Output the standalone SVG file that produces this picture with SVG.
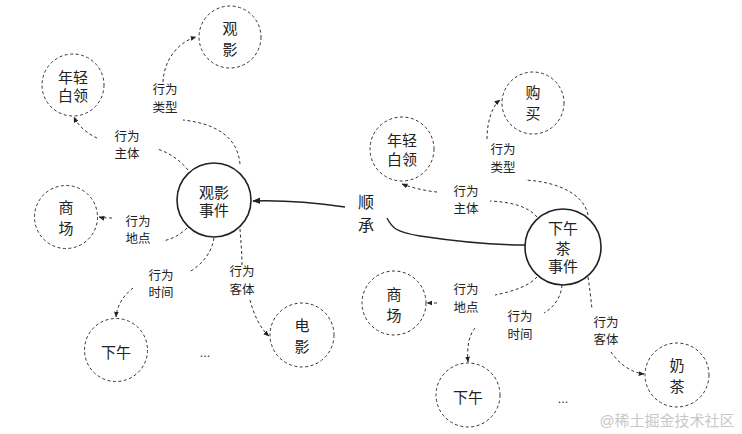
<svg xmlns="http://www.w3.org/2000/svg" width="742" height="434" viewBox="0 0 742 434">
<defs>
<marker id="ah" viewBox="0 0 10 10" refX="9" refY="5" markerWidth="6" markerHeight="6" orient="auto-start-reverse" markerUnits="userSpaceOnUse">
<path d="M0,1 L10,5 L0,9 z" fill="#222"/>
</marker>
<marker id="ahs" viewBox="0 0 10 10" refX="9" refY="5" markerWidth="8" markerHeight="8" orient="auto" markerUnits="userSpaceOnUse">
<path d="M0,1 L10,5 L0,9 z" fill="#222"/>
</marker>
<style>
text{font-family:"Liberation Sans","Noto Sans CJK SC",sans-serif;fill:#222;text-anchor:middle;dominant-baseline:central}
.n{font-size:15px}
.l{font-size:12.5px}
.dc{fill:#fff;stroke:#333;stroke-width:1;stroke-dasharray:3 2.5}
.sc{fill:#fff;stroke:#222;stroke-width:1.6}
.dl{fill:none;stroke:#333;stroke-width:1;stroke-dasharray:3 2.5}
.sl{fill:none;stroke:#222;stroke-width:1.4}
</style>
</defs>
<rect width="742" height="434" fill="#fff"/>
<g id="connectors">
<path class="dl" d="M240,164 C238,140 220,124 183,120"/>
<path class="dl" d="M163,82 C164,60 178,42 196,37" marker-end="url(#ah)"/>
<path class="dl" d="M188,170 C180,160 168,152 157,149"/>
<path class="dl" d="M97,138 C88,134 78,126 74,117" marker-end="url(#ah)"/>
<path class="dl" d="M187,228 C180,235 172,239 163,241"/>
<path class="dl" d="M112,218 C108,218 103,218 99,217" marker-end="url(#ah)"/>
<path class="dl" d="M214,238 C212,252 202,265 189,272"/>
<path class="dl" d="M133,288 C124,295 117,305 116,317" marker-end="url(#ah)"/>
<path class="dl" d="M240,229 C241,242 242,255 242,265"/>
<path class="dl" d="M250,300 C254,315 260,328 269,336" marker-end="url(#ah)"/>
<path class="sl" d="M345,207 C310,202 285,200 253,201" marker-end="url(#ahs)"/>
<path class="sl" d="M387,218 C392,228 396,232 420,236 C460,242 495,245 525,245"/>
<path class="dl" d="M588,215 C584,195 560,182 525,180"/>
<path class="dl" d="M487,139 C487,122 492,106 500,100" marker-end="url(#ah)"/>
<path class="dl" d="M537,217 C528,206 510,202 490,201"/>
<path class="dl" d="M437,192 C425,191 410,187 402,184" marker-end="url(#ah)"/>
<path class="dl" d="M537,277 C528,287 510,292 495,295"/>
<path class="dl" d="M437,303 C433,303 430,303 427,303" marker-end="url(#ah)"/>
<path class="dl" d="M562,285 C561,298 553,308 544,313"/>
<path class="dl" d="M475,328 C468,336 467,350 468,362" marker-end="url(#ah)"/>
<path class="dl" d="M588,277 C590,290 591,300 592,309"/>
<path class="dl" d="M611,352 C619,364 632,373 644,374" marker-end="url(#ah)"/>
</g>
<g id="guanying"><circle class="dc" cx="230" cy="37" r="31"/><text class="n" x="230" y="28">观<tspan x="230" dy="21">影</tspan></text></g>
<g id="bailing1"><circle class="dc" cx="73" cy="85" r="31"/><text class="n" x="73" y="77">年轻<tspan x="73" dy="18">白领</tspan></text></g>
<g id="event1"><circle class="sc" cx="214" cy="200" r="37"/><text class="n" x="214" y="192">观影<tspan x="214" dy="18">事件</tspan></text></g>
<g id="shangchang1"><circle class="dc" cx="66" cy="217" r="31.5"/><text class="n" x="66" y="207">商<tspan x="66" dy="21">场</tspan></text></g>
<g id="xiawu1"><circle class="dc" cx="116" cy="350" r="31.5"/><text class="n" x="116" y="352">下午</text></g>
<g id="dianying"><circle class="dc" cx="302" cy="335" r="32"/><text class="n" x="302" y="325">电<tspan x="302" dy="21">影</tspan></text></g>
<g id="dots1"><text class="l" x="205" y="353">...</text></g>
<g id="labels1">
<text class="l" x="165" y="90">行为<tspan x="165" dy="18">类型</tspan></text>
<text class="l" x="127" y="137">行为<tspan x="127" dy="17">主体</tspan></text>
<text class="l" x="138" y="222">行为<tspan x="138" dy="17">地点</tspan></text>
<text class="l" x="161" y="276">行为<tspan x="161" dy="17">时间</tspan></text>
<text class="l" x="242" y="272">行为<tspan x="242" dy="18">客体</tspan></text>
</g>
<g id="shuncheng"><text x="366" y="202" font-size="16px">顺<tspan x="366" dy="23">承</tspan></text></g>
<g id="goumai"><circle class="dc" cx="533" cy="103" r="31"/><text class="n" x="533" y="92">购<tspan x="533" dy="21">买</tspan></text></g>
<g id="bailing2"><circle class="dc" cx="402" cy="149" r="32"/><text class="n" x="402" y="140">年轻<tspan x="402" dy="19">白领</tspan></text></g>
<g id="event2"><circle class="sc" cx="563" cy="247" r="38"/><text class="n" x="563" y="228">下午<tspan x="563" dy="20">茶</tspan><tspan x="563" dy="18">事件</tspan></text></g>
<g id="shangchang2"><circle class="dc" cx="394" cy="303" r="32"/><text class="n" x="394" y="294">商<tspan x="394" dy="21">场</tspan></text></g>
<g id="xiawu2"><circle class="dc" cx="468" cy="395" r="32"/><text class="n" x="468" y="397">下午</text></g>
<g id="naicha"><circle class="dc" cx="677" cy="375" r="32"/><text class="n" x="677" y="365">奶<tspan x="677" dy="21">茶</tspan></text></g>
<g id="dots2"><text class="l" x="563" y="399">...</text></g>
<g id="labels2">
<text class="l" x="503" y="150">行为<tspan x="503" dy="18">类型</tspan></text>
<text class="l" x="466" y="192">行为<tspan x="466" dy="17">主体</tspan></text>
<text class="l" x="466" y="290">行为<tspan x="466" dy="18">地点</tspan></text>
<text class="l" x="520" y="317">行为<tspan x="520" dy="18">时间</tspan></text>
<text class="l" x="606" y="323">行为<tspan x="606" dy="17">客体</tspan></text>
</g>
<text x="667" y="420" font-size="15px" style="fill:#c8c8c8">@稀土掘金技术社区</text>
</svg>
